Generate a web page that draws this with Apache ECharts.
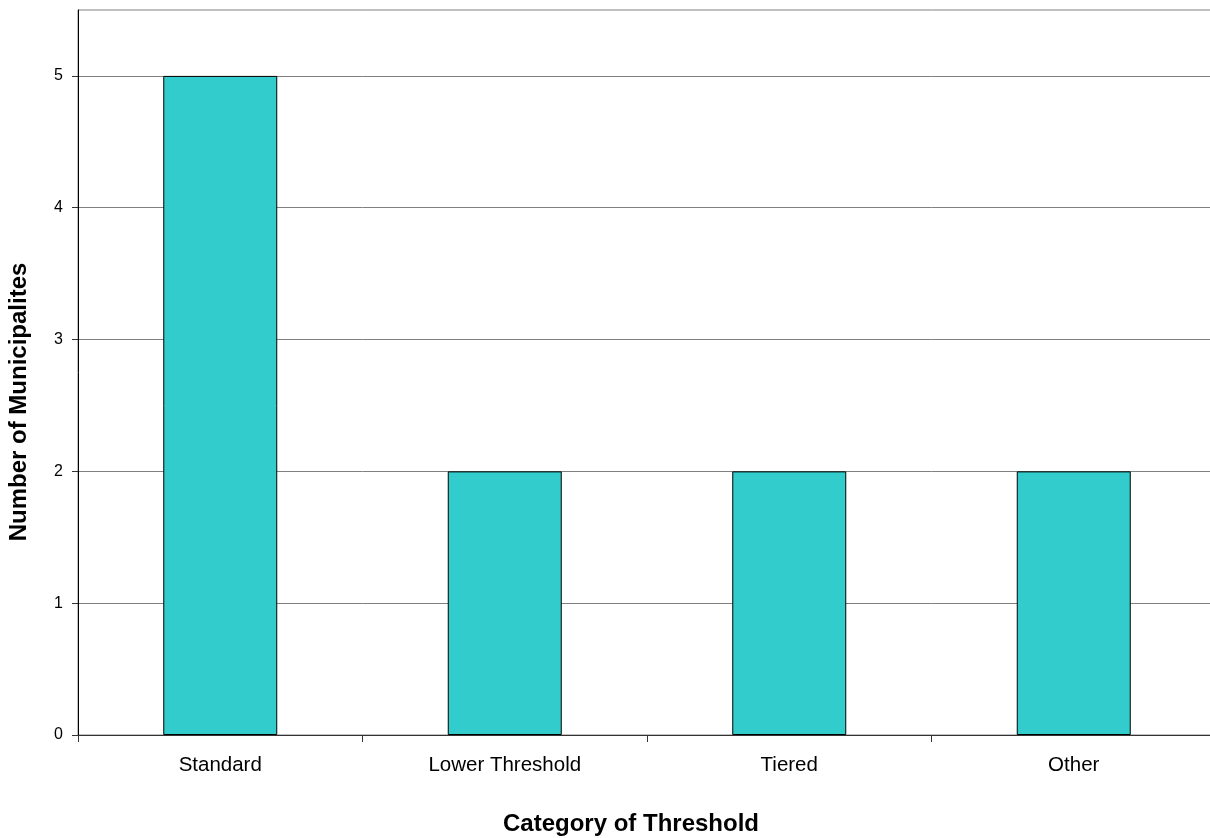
<!DOCTYPE html>
<html>
<head>
<meta charset="utf-8">
<script src="https://cdn.jsdelivr.net/npm/echarts@6/dist/echarts.min.js"></script>
<style>
  html, body { margin: 0; padding: 0; background: #fff; overflow: hidden; }
  /* the plot area runs a few pixels past the right edge of the window */
  #chart { width: 1216px; height: 838px; }
</style>
</head>
<body>
<div id="chart"></div>
<script>
// Municipalities grouped by threshold category
const categories = ['Standard', 'Lower Threshold', 'Tiered', 'Other'];
const municipalities = [5, 2, 2, 2];
const yTicks = [0, 1, 2, 3, 4, 5];
const xTitle = 'Category of Threshold';
const yTitle = 'Number of Municipalites';

const chart = echarts.init(document.getElementById('chart'), null, { renderer: 'canvas' });
const font = 'Liberation Sans, Arial, sans-serif';

chart.setOption({
  animation: false,
  backgroundColor: '#ffffff',
  grid: {
    left: 78, right: 0, top: 10, bottom: 103, containLabel: false,
    show: true, borderColor: '#808080', borderWidth: 1, backgroundColor: 'transparent'
  },
  xAxis: {
    type: 'category',
    data: categories,
    axisLine: { lineStyle: { color: '#333', width: 1 } },
    axisTick: { show: true, alignWithLabel: false, length: 7, lineStyle: { color: '#333' } },
    axisLabel: { fontFamily: font, fontSize: 20.5, color: '#000', margin: 20 },
    splitLine: { show: false }
  },
  yAxis: {
    type: 'value',
    min: 0,
    max: 5.5,
    interval: 1,
    axisLine: { show: true, lineStyle: { color: '#000', width: 1 } },
    axisTick: { show: true, length: 6, lineStyle: { color: '#333' }, customValues: yTicks },
    axisLabel: {
      fontFamily: font, fontSize: 16, color: '#000', margin: 15,
      customValues: yTicks,
      formatter: v => (yTicks.includes(v) ? String(v) : '')
    },
    splitLine: { show: true, lineStyle: { color: '#808080', width: 1 } }
  },
  graphic: [
    {
      type: 'text',
      position: [631, 824],
      style: {
        text: xTitle,
        textAlign: 'center', textVerticalAlign: 'middle',
        font: 'bold 24px ' + font, fill: '#000'
      }
    },
    {
      type: 'text',
      position: [19, 402],
      rotation: Math.PI / 2,
      style: {
        text: yTitle,
        textAlign: 'center', textVerticalAlign: 'middle',
        font: 'bold 24px ' + font, fill: '#000'
      }
    }
  ],
  series: [{
    type: 'bar',
    data: municipalities,
    barWidth: 114,
    itemStyle: { color: '#33CCCC', borderColor: '#000', borderWidth: 1 }
  }]
});
</script>
</body>
</html>
